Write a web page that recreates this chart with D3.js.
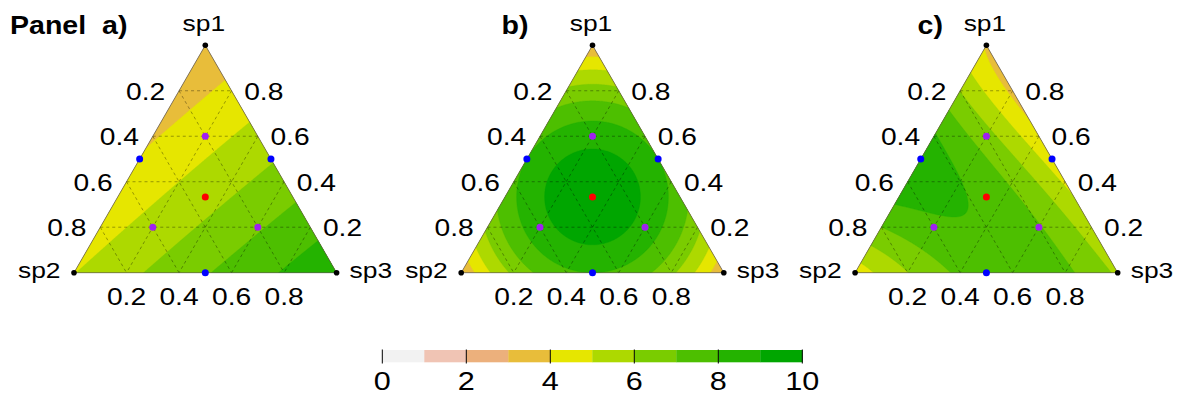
<!DOCTYPE html>
<html>
<head>
<meta charset="utf-8">
<script src="https://cdn.jsdelivr.net/npm/d3@7"></script>
<style>
  html, body { margin: 0; padding: 0; background: #fff; }
  svg { display: block; }
  text { font-family: "Liberation Sans", Arial, sans-serif; fill: #000; }
</style>
</head>
<body>
<svg id="chart" width="1179" height="396"></svg>
<script>
// Mixture response surfaces on the basis:
// sp1, sp2, sp3,
// sp1*sp2, sp1*sp3, sp2*sp3,
// sp1*sp2*(sp1-sp2), sp1*sp3*(sp1-sp3), sp2*sp3*(sp2-sp3),
// sp1*sp2*(sp1-sp2)^2, sp1*sp3*(sp1-sp3)^2, sp2*sp3*(sp2-sp3)^2,
// sp1^2*sp2*sp3, sp1*sp2^2*sp3, sp1*sp2*sp3^2
const panelNames = ["Panel\u00A0\u00A0a)", "b)", "c)"];
const coefA = [3.2, 4.97, 8.86, 0, -0.5, 0, 0, 0, 0, 0, 0, 0, 0, 0, 0];
const coefB = [3.03, 3.03, 3.03, 19.9, 19.9, 19.9, 0, 0, 0, 0, 0, 0, 0, 0, 0];

// Response readings for panel c: [sp1, sp2, sp3, response]
const readingsC = [
  [1, 0, 0, 3.9], [0, 1, 0, 4.5], [0, 0, 1, 5.9],
  [0.92, 0, 0.08, 3.75], [0.85, 0, 0.15, 3.65], [0.707, 0, 0.293, 4], [0.5, 0, 0.5, 4.55],
  [0.33, 0, 0.67, 5], [0.15, 0, 0.85, 5.5],
  [0.875, 0.125, 0, 5], [0.795, 0.205, 0, 6], [0.72, 0.28, 0, 7],
  [0.604, 0.396, 0, 8], [0.45, 0.55, 0, 8.45], [0.296, 0.704, 0, 8],
  [0.188, 0.812, 0, 7], [0.129, 0.871, 0, 6], [0.041, 0.959, 0, 5],
  [0, 0.924, 0.076, 5], [0, 0.8, 0.2, 6], [0, 0.64, 0.36, 7],
  [0, 0.35, 0.65, 7.6], [0, 0.14, 0.86, 7], [0, 0.05, 0.95, 6],
  [0.8, 0.025, 0.175, 4], [0.8, 0.087, 0.113, 5],
  [0.6, 0.37, 0.03, 8], [0.6, 0.27, 0.13, 7], [0.6, 0.2, 0.2, 6.1], [0.6, 0.09, 0.31, 5],
  [0.4, 0.394, 0.206, 8], [0.4, 0.19, 0.41, 7], [0.4, 0.09, 0.51, 6], [0.4, 0.026, 0.574, 5],
  [0.2, 0.2, 0.6, 7], [0.2, 0.063, 0.737, 6], [0.2, 0.6, 0.2, 7.75],
  [0.2977, 0.4437, 0.2586, 8], [0.276, 0.576, 0.148, 8], [0.457, 0.378, 0.1645, 8],
  [0.45, 0.45, 0.1, 8.5], [1/3, 1/3, 1/3, 7.6]
];

// Design points (sp1, sp2, sp3)
const vertexPts = [[1, 0, 0], [0, 1, 0], [0, 0, 1]];
const vertexNames = ["sp1", "sp2", "sp3"];
const edgePts = [[0.5, 0.5, 0], [0.5, 0, 0.5], [0, 0.5, 0.5]];
const axialPts = [[0.6, 0.2, 0.2], [0.2, 0.6, 0.2], [0.2, 0.2, 0.6]];
const centrePts = [[1/3, 1/3, 1/3]];

// Grid proportions and their labels
const gridVals = [0.2, 0.4, 0.6, 0.8];
const gridLabels = ["0.2", "0.4", "0.6", "0.8"];

// Colour key
const levels = [0, 1, 2, 3, 4, 5, 6, 7, 8, 9, 10];
const levelColors = ["#F2F2F2", "#F0C4B4", "#ECB07C", "#E8BD3A", "#E6E600",
                     "#ADD900", "#7ACC00", "#4DBF00", "#24B300", "#00A600"];
const keyTicks = [0, 2, 4, 6, 8, 10];

function basis(p) {
  const [a, b, d] = p;
  const ab = a * b, ad = a * d, bd = b * d;
  const u = a - b, v = a - d, w = b - d;
  return [a, b, d, ab, ad, bd, ab * u, ad * v, bd * w,
          ab * u * u, ad * v * v, bd * w * w, a * ab * d, b * ab * d, d * ab * d];
}
function surface(c, p) {
  return d3.sum(basis(p), (t, i) => t * c[i]);
}
// Least-squares fit of the basis to a set of readings
function fitSurface(rows) {
  const n = basis([1, 0, 0]).length;
  const M = Array.from({length: n}, () => new Float64Array(n + 1));
  rows.forEach(r => {
    const f = basis(r.slice(0, 3));
    for (let i = 0; i < n; i++) {
      for (let j = 0; j < n; j++) M[i][j] += f[i] * f[j];
      M[i][n] += f[i] * r[3];
    }
  });
  for (let i = 0; i < n; i++) M[i][i] += 1e-7;
  for (let c = 0; c < n; c++) {
    let piv = c;
    for (let r = c + 1; r < n; r++) if (Math.abs(M[r][c]) > Math.abs(M[piv][c])) piv = r;
    [M[c], M[piv]] = [M[piv], M[c]];
    for (let r = 0; r < n; r++) {
      if (r === c) continue;
      const k = M[r][c] / M[c][c];
      for (let j = c; j <= n; j++) M[r][j] -= k * M[c][j];
    }
  }
  return M.map((row, i) => row[n] / row[i]);
}
const coefC = fitSurface(readingsC);

const svg = d3.select("#chart");
const side = 262.6;
const triH = side * Math.sqrt(3) / 2;
const baseY = 272.7;
const centres = [205.3, 592.5, 986.4];
const coefs = [coefA, coefB, coefC];
const SX = 1.2; // horizontal text stretch

function stretchedText(g, x, y, str, size, anchor, weight, sx) {
  return g.append("text")
    .attr("transform", `translate(${x},${y}) scale(${sx || SX},1)`)
    .attr("text-anchor", anchor || "middle")
    .style("font-size", size + "px")
    .style("font-weight", weight || "normal")
    .text(str);
}

coefs.forEach((coef, k) => {
  const cx = centres[k];
  // horizontal position along the base (0 = sp2 corner, 1 = sp3 corner), height = sp1
  const xs = d3.scaleLinear().domain([0, 1]).range([cx - side / 2, cx + side / 2]);
  const ys = d3.scaleLinear().domain([0, 1]).range([baseY, baseY - triH]);
  const proj = p => [xs(p[2] + p[0] / 2), ys(p[0])];

  const g = svg.append("g");
  const clipId = "tri" + k;
  const corners = vertexPts.map(proj);
  g.append("clipPath").attr("id", clipId)
    .append("path").attr("d", "M" + corners.join("L") + "Z");

  // Evaluate the surface on a pixel grid covering the triangle
  const step = 1;
  const x0 = xs(0) - 3, y0 = ys(1) - 3;
  const nx = Math.ceil((side + 6) / step) + 1;
  const ny = Math.ceil((triH + 6) / step) + 1;
  const values = new Float64Array(nx * ny);
  for (let j = 0; j < ny; j++) {
    const s1 = ys.invert(y0 + j * step);
    for (let i = 0; i < nx; i++) {
      const s3 = xs.invert(x0 + i * step) - s1 / 2;
      values[j * nx + i] = surface(coef, [s1, 1 - s1 - s3, s3]);
    }
  }
  const contours = d3.contours().size([nx, ny]).thresholds(levels.slice(0, 10))(values);
  const path = d3.geoPath(d3.geoIdentity().scale(step).translate([x0 - 0.5 * step, y0 - 0.5 * step]));
  g.append("g").attr("clip-path", `url(#${clipId})`)
    .selectAll("path").data(contours).join("path")
    .attr("d", path)
    .attr("fill", d => levelColors[levels.indexOf(d.value)])
    .attr("stroke", d => levelColors[levels.indexOf(d.value)])
    .attr("stroke-width", 0.3);

  // Dashed grid
  const lines = [];
  gridVals.forEach(v => {
    lines.push([[v, 1 - v, 0], [v, 0, 1 - v]]);
    lines.push([[1 - v, v, 0], [0, v, 1 - v]]);
    lines.push([[1 - v, 0, v], [0, 1 - v, v]]);
  });
  g.append("g").selectAll("line").data(lines).join("line")
    .attr("x1", d => proj(d[0])[0]).attr("y1", d => proj(d[0])[1])
    .attr("x2", d => proj(d[1])[0]).attr("y2", d => proj(d[1])[1])
    .attr("stroke", "#000").attr("stroke-opacity", 0.5)
    .attr("stroke-width", 0.7).attr("stroke-dasharray", "3,3");

  // Outline
  g.append("path").attr("d", "M" + corners.join("L") + "Z")
    .attr("fill", "none").attr("stroke", "#555").attr("stroke-width", 0.7);

  // Proportion labels
  gridVals.forEach((v, i) => {
    const L = proj([1 - v, v, 0]);
    stretchedText(g, L[0] - 33.4, L[1] + 9, gridLabels[i], 23.5);
    const R = proj([v, 0, 1 - v]);
    stretchedText(g, R[0] + 32.2, R[1] + 9, gridLabels[i], 23.5);
    const B = proj([0, 1 - v, v]);
    stretchedText(g, B[0], 305, gridLabels[i], 23.5);
  });

  // Vertex labels
  const A = proj(vertexPts[0]), B2 = proj(vertexPts[1]), C3 = proj(vertexPts[2]);
  stretchedText(g, A[0] - 1.5, 31, vertexNames[0], 22);
  stretchedText(g, B2[0] - 13.5, B2[1] + 5.5, vertexNames[1], 22, "end");
  stretchedText(g, C3[0] + 13, C3[1] + 5.5, vertexNames[2], 22, "start");

  // Design points
  const dot = (pts, r, col) => g.append("g").selectAll("circle").data(pts).join("circle")
    .attr("cx", d => proj(d)[0]).attr("cy", d => proj(d)[1])
    .attr("r", r).attr("fill", col);
  dot(vertexPts, 2.8, "#000");
  dot(edgePts, 3.5, "#0000FF");
  dot(axialPts, 3.5, "#A020F0");
  dot(centrePts, 3.5, "#FF0000");
});

// Panel titles
stretchedText(svg, 10, 33.5, panelNames[0], 25.5, "start", "bold", 1.12);
stretchedText(svg, 501.5, 33.5, panelNames[1], 25.5, "start", "bold", 1.12);
stretchedText(svg, 917.5, 33.5, panelNames[2], 25.5, "start", "bold", 1.12);

// Colour key
const kx = d3.scaleLinear().domain([0, 10]).range([382.3, 802.3]);
const key = svg.append("g");
key.selectAll("rect").data(levelColors).join("rect")
  .attr("x", (d, i) => kx(levels[i]))
  .attr("width", (d, i) => kx(levels[i + 1]) - kx(levels[i]) + 0.3)
  .attr("y", 350).attr("height", 12.3)
  .attr("fill", d => d);
key.selectAll("line").data(keyTicks).join("line")
  .attr("x1", d => kx(d)).attr("x2", d => kx(d))
  .attr("y1", 349.5).attr("y2", 363.5)
  .attr("stroke", "#000").attr("stroke-width", 1);
keyTicks.forEach(t => stretchedText(key, kx(t), 390, String(t), 25.5));
</script>
</body>
</html>
